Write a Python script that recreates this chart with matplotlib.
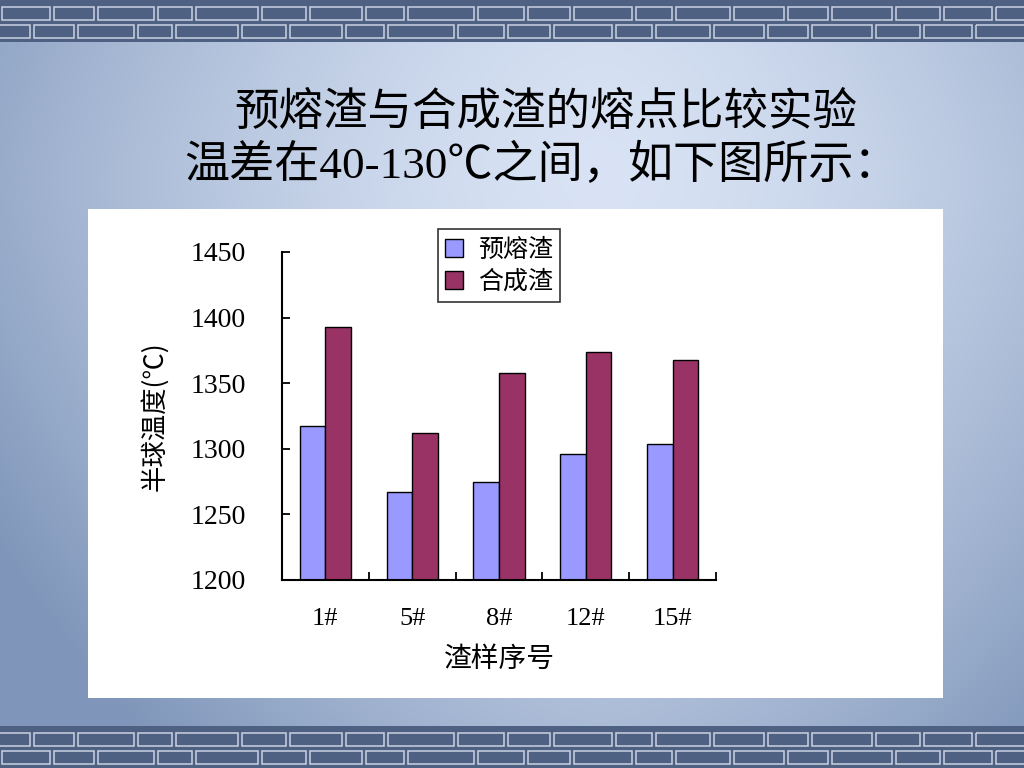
import numpy as np
import matplotlib
matplotlib.use("Agg")
import matplotlib.pyplot as plt
from matplotlib.patches import Rectangle

categories = ["1#", "5#", "8#", "12#", "15#"]
premelt = [1317, 1267, 1275, 1296, 1304]
synth = [1393, 1312, 1358, 1374, 1368]
series_names = ["预熔渣", "合成渣"]
yticks = [1200, 1250, 1300, 1350, 1400, 1450]

CJK = ["Noto Sans CJK SC", "DejaVu Sans"]
SERIF = ["Liberation Serif", "DejaVu Serif"]
MIX = ["Liberation Serif", "Noto Sans CJK SC", "DejaVu Sans"]

fig = plt.figure(figsize=(10.24, 7.68), dpi=100)

# background
bg = fig.add_axes([0, 0, 1, 1], zorder=-10)
bg.set_xlim(0, 1024); bg.set_ylim(768, 0); bg.axis("off")
yy, xx = np.mgrid[0:768, 0:1024]
t = np.clip(1 - (np.abs(xx - 600) / 750) ** 1.5 - (np.abs(yy - 180) / 850) ** 1.5, 0, 1)
c0 = np.array([0.50, 0.59, 0.73]); c1 = np.array([0.85, 0.89, 0.96])
img = c0 + (c1 - c0) * t[..., None]
bg.imshow(img, extent=[0, 1024, 768, 0], aspect="auto")
band = "#4f6182"; line = "#c9d2e2"
for y0 in (0, 726):
    bg.add_patch(Rectangle((0, y0), 1024, 42, color=band, lw=0))
widths = [52, 44, 60, 38, 66, 48, 56, 42, 70, 50, 46, 62, 40, 58, 54, 44, 64, 48, 52, 60, 42]
for (y0, h, off) in ((7, 13, 0), (25, 13, 20), (733, 13, 20), (751, 13, 0)):
    xpos = -off
    i = 0
    while xpos < 1024:
        wd = widths[i % len(widths)]
        bg.add_patch(Rectangle((xpos + 2, y0), wd - 4, h, fill=False, ec=line, lw=1.1))
        xpos += wd; i += 1

# white panel
bg.add_patch(Rectangle((88, 209), 855, 489, color="white", lw=0))

# title
fig.text(546 / 1024, 1 - 112 / 768, "预熔渣与合成渣的熔点比较实验", ha="center", va="center",
         fontsize=32, family=CJK, color="black")
fig.text(542 / 1024, 1 - 165 / 768, "温差在40-130℃之间，如下图所示：", ha="center", va="center",
         fontsize=32.5, family=MIX, color="black")

ax = fig.add_axes([282 / 1024, 1 - 580 / 768, 434 / 1024, 328 / 768])
x = np.arange(len(categories))
w = 0.295
ax.bar(x - w / 2, premelt, w, color="#9999FF", edgecolor="black", lw=1.0, label=series_names[0])
ax.bar(x + w / 2, synth, w, color="#993366", edgecolor="black", lw=1.0, label=series_names[1])
ax.set_ylim(1200, 1450)
ax.set_xlim(-0.5, len(categories) - 0.5)
ax.set_yticks(yticks)
ax.set_yticklabels([str(v) for v in yticks], family=SERIF, fontsize=20)
ax.set_xticks(x)
ax.set_xticklabels(categories, family=SERIF, fontsize=19)
ax.set_xticks(np.arange(len(categories) + 1) - 0.5, minor=True)
ax.tick_params(axis="x", which="major", length=0, pad=20)
ax.tick_params(axis="x", which="minor", length=6, width=1.3, direction="in")
ax.tick_params(axis="y", length=6, width=1.3, direction="in", pad=26)
for s in ("top", "right"):
    ax.spines[s].set_visible(False)
for s in ("left", "bottom"):
    ax.spines[s].set_linewidth(1.5)
ax.set_ylabel("半球温度(℃)", family=CJK, fontsize=19, labelpad=16)
ax.set_xlabel("渣样序号", family=CJK, fontsize=20, labelpad=10)
leg = ax.legend(loc="upper center", bbox_to_anchor=(0.5, 1.085), prop={"family": CJK, "size": 18},
                frameon=True, fancybox=False, edgecolor="black", handlelength=0.7, handleheight=0.7,
                handletextpad=0.6, borderpad=0.3, borderaxespad=0.2, labelspacing=0.25)
leg.get_frame().set_linewidth(1.2)

fig.savefig("out.png", dpi=100)
